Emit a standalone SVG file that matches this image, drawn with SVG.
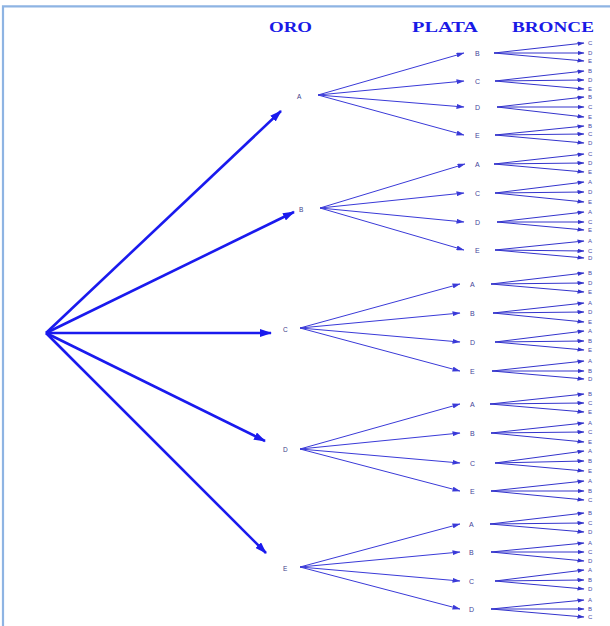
<svg xmlns="http://www.w3.org/2000/svg" width="610" height="626" viewBox="0 0 610 626">
  <style>
    .head { font-family: "Liberation Serif", "Times New Roman", serif; font-weight: bold; font-size: 15px; fill: #1a1ae6; }
    .lbl { font-family: "Liberation Sans", Arial, sans-serif; font-size: 6.5px; fill: #3c3c88; }
    .lbl-s { font-family: "Liberation Sans", Arial, sans-serif; font-size: 7px; fill: #44449a; }
    .lbl-b { font-family: "Liberation Sans", Arial, sans-serif; font-size: 6px; fill: #4a4aa8; }
    .gold { stroke: #1a1aee; stroke-width: 2.6; fill: none; marker-end: url(#big); }
    .silver { stroke: #3a3ad8; stroke-width: 1; fill: none; marker-end: url(#mid); }
    .bronze { stroke: #3434cc; stroke-width: 1; fill: none; marker-end: url(#small); }
    .frame { stroke: #8eb4e3; stroke-width: 2.2; fill: none; }
  </style>
  <defs>
    <marker id="big" viewBox="0 0 12 8" markerWidth="12" markerHeight="8" refX="11" refY="4" orient="auto" markerUnits="userSpaceOnUse">
      <path d="M0,0 L12,4 L0,8 Z" fill="#1a1aee"/>
    </marker>
    <marker id="mid" viewBox="0 0 8 5" markerWidth="8" markerHeight="5" refX="7.5" refY="2.5" orient="auto" markerUnits="userSpaceOnUse">
      <path d="M0,0 L8,2.5 L0,5 Z" fill="#3a3ad8"/>
    </marker>
    <marker id="small" viewBox="0 0 7 4.4" markerWidth="7" markerHeight="4.4" refX="6.5" refY="2.2" orient="auto" markerUnits="userSpaceOnUse">
      <path d="M0,0 L7,2.2 L0,4.4 Z" fill="#3434cc"/>
    </marker>
  </defs>

  <rect width="610" height="626" fill="#ffffff"/>
  <!-- page frame -->
  <path class="frame" d="M3,626 L3,6.3 L610,6.3"/>

  <!-- column headings -->
  <g id="headings">
    <text class="head" x="269" y="31.5" textLength="43" lengthAdjust="spacingAndGlyphs">ORO</text>
    <text class="head" x="412" y="31.5" textLength="66" lengthAdjust="spacingAndGlyphs">PLATA</text>
    <text class="head" x="512" y="31.5" textLength="82" lengthAdjust="spacingAndGlyphs">BRONCE</text>
  </g>

  <!-- connectors -->
  <g id="connectors">
    <!-- root to gold -->
    <line class="gold" x1="46" y1="333" x2="281" y2="111"/>
    <line class="gold" x1="46" y1="333" x2="294" y2="212"/>
    <line class="gold" x1="46" y1="333" x2="271" y2="333"/>
    <line class="gold" x1="46" y1="333" x2="265" y2="441"/>
    <line class="gold" x1="46" y1="333" x2="266" y2="553"/>

    <!-- gold to silver -->
    <line class="silver" x1="318" y1="95" x2="464" y2="53"/>
    <line class="silver" x1="318" y1="95" x2="464" y2="81"/>
    <line class="silver" x1="318" y1="95" x2="464" y2="107"/>
    <line class="silver" x1="318" y1="95" x2="464" y2="135"/>

    <line class="silver" x1="320" y1="208" x2="465" y2="164"/>
    <line class="silver" x1="320" y1="208" x2="464" y2="193"/>
    <line class="silver" x1="320" y1="208" x2="464" y2="222"/>
    <line class="silver" x1="320" y1="208" x2="464" y2="250"/>

    <line class="silver" x1="300" y1="328" x2="460" y2="284"/>
    <line class="silver" x1="300" y1="328" x2="460" y2="313"/>
    <line class="silver" x1="300" y1="328" x2="460" y2="342"/>
    <line class="silver" x1="300" y1="328" x2="460" y2="371"/>

    <line class="silver" x1="300" y1="449" x2="460" y2="404"/>
    <line class="silver" x1="300" y1="449" x2="460" y2="433"/>
    <line class="silver" x1="300" y1="449" x2="460" y2="463"/>
    <line class="silver" x1="300" y1="449" x2="460" y2="491"/>

    <line class="silver" x1="300" y1="567" x2="460" y2="524"/>
    <line class="silver" x1="300" y1="567" x2="460" y2="552"/>
    <line class="silver" x1="300" y1="567" x2="460" y2="581"/>
    <line class="silver" x1="300" y1="567" x2="460" y2="609"/>

    <!-- silver to bronze: gold A -->
    <line class="bronze" x1="494" y1="53" x2="584" y2="43"/>
    <line class="bronze" x1="494" y1="53" x2="584" y2="53"/>
    <line class="bronze" x1="494" y1="53" x2="584" y2="61"/>
    <line class="bronze" x1="495" y1="81" x2="584" y2="71"/>
    <line class="bronze" x1="495" y1="81" x2="584" y2="80"/>
    <line class="bronze" x1="495" y1="81" x2="584" y2="89"/>
    <line class="bronze" x1="497" y1="107" x2="584" y2="97"/>
    <line class="bronze" x1="497" y1="107" x2="584" y2="107"/>
    <line class="bronze" x1="497" y1="107" x2="584" y2="117"/>
    <line class="bronze" x1="495" y1="135" x2="584" y2="126"/>
    <line class="bronze" x1="495" y1="135" x2="584" y2="134"/>
    <line class="bronze" x1="495" y1="135" x2="584" y2="143"/>

    <!-- gold B -->
    <line class="bronze" x1="494" y1="164" x2="584" y2="154"/>
    <line class="bronze" x1="494" y1="164" x2="584" y2="163"/>
    <line class="bronze" x1="494" y1="164" x2="584" y2="172"/>
    <line class="bronze" x1="495" y1="193" x2="584" y2="182"/>
    <line class="bronze" x1="495" y1="193" x2="584" y2="192"/>
    <line class="bronze" x1="495" y1="193" x2="584" y2="202"/>
    <line class="bronze" x1="497" y1="222" x2="584" y2="212"/>
    <line class="bronze" x1="497" y1="222" x2="584" y2="222"/>
    <line class="bronze" x1="497" y1="222" x2="584" y2="230"/>
    <line class="bronze" x1="495" y1="250" x2="584" y2="241"/>
    <line class="bronze" x1="495" y1="250" x2="584" y2="251"/>
    <line class="bronze" x1="495" y1="250" x2="584" y2="258"/>

    <!-- gold C -->
    <line class="bronze" x1="491" y1="284" x2="584" y2="273"/>
    <line class="bronze" x1="491" y1="284" x2="584" y2="283"/>
    <line class="bronze" x1="491" y1="284" x2="584" y2="292"/>
    <line class="bronze" x1="493" y1="313" x2="584" y2="303"/>
    <line class="bronze" x1="493" y1="313" x2="584" y2="312"/>
    <line class="bronze" x1="493" y1="313" x2="584" y2="322"/>
    <line class="bronze" x1="495" y1="342" x2="584" y2="331"/>
    <line class="bronze" x1="495" y1="342" x2="584" y2="341"/>
    <line class="bronze" x1="495" y1="342" x2="584" y2="350"/>
    <line class="bronze" x1="492" y1="371" x2="584" y2="361"/>
    <line class="bronze" x1="492" y1="371" x2="584" y2="371"/>
    <line class="bronze" x1="492" y1="371" x2="584" y2="379"/>

    <!-- gold D -->
    <line class="bronze" x1="490" y1="404" x2="584" y2="394"/>
    <line class="bronze" x1="490" y1="404" x2="584" y2="403"/>
    <line class="bronze" x1="490" y1="404" x2="584" y2="412"/>
    <line class="bronze" x1="491" y1="433" x2="584" y2="423"/>
    <line class="bronze" x1="491" y1="433" x2="584" y2="432"/>
    <line class="bronze" x1="491" y1="433" x2="584" y2="442"/>
    <line class="bronze" x1="495" y1="463" x2="584" y2="451"/>
    <line class="bronze" x1="495" y1="463" x2="584" y2="461"/>
    <line class="bronze" x1="495" y1="463" x2="584" y2="471"/>
    <line class="bronze" x1="491" y1="491" x2="584" y2="481"/>
    <line class="bronze" x1="491" y1="491" x2="584" y2="491"/>
    <line class="bronze" x1="491" y1="491" x2="584" y2="500"/>

    <!-- gold E -->
    <line class="bronze" x1="490" y1="524" x2="584" y2="513"/>
    <line class="bronze" x1="490" y1="524" x2="584" y2="523"/>
    <line class="bronze" x1="490" y1="524" x2="584" y2="532"/>
    <line class="bronze" x1="491" y1="552" x2="584" y2="543"/>
    <line class="bronze" x1="491" y1="552" x2="584" y2="552"/>
    <line class="bronze" x1="491" y1="552" x2="584" y2="561"/>
    <line class="bronze" x1="495" y1="581" x2="584" y2="570"/>
    <line class="bronze" x1="495" y1="581" x2="584" y2="580"/>
    <line class="bronze" x1="495" y1="581" x2="584" y2="589"/>
    <line class="bronze" x1="491" y1="609" x2="584" y2="600"/>
    <line class="bronze" x1="491" y1="609" x2="584" y2="609"/>
    <line class="bronze" x1="491" y1="609" x2="584" y2="617"/>
  </g>

  <!-- gold nodes -->
  <g id="gold-A"><text class="lbl" x="297" y="98.5">A</text></g>
  <g id="gold-B"><text class="lbl" x="299" y="212">B</text></g>
  <g id="gold-C"><text class="lbl" x="283" y="331.5">C</text></g>
  <g id="gold-D"><text class="lbl" x="283" y="452">D</text></g>
  <g id="gold-E"><text class="lbl" x="283" y="570.5">E</text></g>

  <!-- silver nodes, gold A -->
  <g id="A-B"><text class="lbl-s" x="475" y="55.5">B</text></g>
  <g id="A-C"><text class="lbl-s" x="475" y="83.5">C</text></g>
  <g id="A-D"><text class="lbl-s" x="475" y="109.5">D</text></g>
  <g id="A-E"><text class="lbl-s" x="475" y="137.5">E</text></g>
  <!-- silver nodes, gold B -->
  <g id="B-A"><text class="lbl-s" x="475" y="166.5">A</text></g>
  <g id="B-C"><text class="lbl-s" x="475" y="195.5">C</text></g>
  <g id="B-D"><text class="lbl-s" x="475" y="224.5">D</text></g>
  <g id="B-E"><text class="lbl-s" x="475" y="252.5">E</text></g>
  <!-- silver nodes, gold C -->
  <g id="C-A"><text class="lbl-s" x="470" y="286.5">A</text></g>
  <g id="C-B"><text class="lbl-s" x="470" y="315.5">B</text></g>
  <g id="C-D"><text class="lbl-s" x="470" y="344.5">D</text></g>
  <g id="C-E"><text class="lbl-s" x="470" y="373.5">E</text></g>
  <!-- silver nodes, gold D -->
  <g id="D-A"><text class="lbl-s" x="470" y="406.5">A</text></g>
  <g id="D-B"><text class="lbl-s" x="470" y="435.5">B</text></g>
  <g id="D-C"><text class="lbl-s" x="470" y="465.5">C</text></g>
  <g id="D-E"><text class="lbl-s" x="470" y="493.5">E</text></g>
  <!-- silver nodes, gold E -->
  <g id="E-A"><text class="lbl-s" x="469" y="526.5">A</text></g>
  <g id="E-B"><text class="lbl-s" x="469" y="554.5">B</text></g>
  <g id="E-C"><text class="lbl-s" x="469" y="583.5">C</text></g>
  <g id="E-D"><text class="lbl-s" x="469" y="611.5">D</text></g>

  <!-- bronze leaves -->
  <g id="bronze-A">
    <text class="lbl-b" x="588" y="45">C</text><text class="lbl-b" x="588" y="55">D</text><text class="lbl-b" x="588" y="63">E</text>
    <text class="lbl-b" x="588" y="73">B</text><text class="lbl-b" x="588" y="82">D</text><text class="lbl-b" x="588" y="91">E</text>
    <text class="lbl-b" x="588" y="99">B</text><text class="lbl-b" x="588" y="109">C</text><text class="lbl-b" x="588" y="119">E</text>
    <text class="lbl-b" x="588" y="128">B</text><text class="lbl-b" x="588" y="136">C</text><text class="lbl-b" x="588" y="145">D</text>
  </g>
  <g id="bronze-B">
    <text class="lbl-b" x="588" y="156">C</text><text class="lbl-b" x="588" y="165">D</text><text class="lbl-b" x="588" y="174">E</text>
    <text class="lbl-b" x="588" y="184">A</text><text class="lbl-b" x="588" y="194">D</text><text class="lbl-b" x="588" y="204">E</text>
    <text class="lbl-b" x="588" y="214">A</text><text class="lbl-b" x="588" y="224">C</text><text class="lbl-b" x="588" y="232">E</text>
    <text class="lbl-b" x="588" y="243">A</text><text class="lbl-b" x="588" y="253">C</text><text class="lbl-b" x="588" y="260">D</text>
  </g>
  <g id="bronze-C">
    <text class="lbl-b" x="588" y="275">B</text><text class="lbl-b" x="588" y="285">D</text><text class="lbl-b" x="588" y="294">E</text>
    <text class="lbl-b" x="588" y="305">A</text><text class="lbl-b" x="588" y="314">D</text><text class="lbl-b" x="588" y="324">E</text>
    <text class="lbl-b" x="588" y="333">A</text><text class="lbl-b" x="588" y="343">B</text><text class="lbl-b" x="588" y="352">E</text>
    <text class="lbl-b" x="588" y="363">A</text><text class="lbl-b" x="588" y="373">B</text><text class="lbl-b" x="588" y="381">D</text>
  </g>
  <g id="bronze-D">
    <text class="lbl-b" x="588" y="396">B</text><text class="lbl-b" x="588" y="405">C</text><text class="lbl-b" x="588" y="414">E</text>
    <text class="lbl-b" x="588" y="425">A</text><text class="lbl-b" x="588" y="434">C</text><text class="lbl-b" x="588" y="444">E</text>
    <text class="lbl-b" x="588" y="453">A</text><text class="lbl-b" x="588" y="463">B</text><text class="lbl-b" x="588" y="473">E</text>
    <text class="lbl-b" x="588" y="483">A</text><text class="lbl-b" x="588" y="493">B</text><text class="lbl-b" x="588" y="502">C</text>
  </g>
  <g id="bronze-E">
    <text class="lbl-b" x="588" y="515">B</text><text class="lbl-b" x="588" y="525">C</text><text class="lbl-b" x="588" y="534">D</text>
    <text class="lbl-b" x="588" y="545">A</text><text class="lbl-b" x="588" y="554">C</text><text class="lbl-b" x="588" y="563">D</text>
    <text class="lbl-b" x="588" y="572">A</text><text class="lbl-b" x="588" y="582">B</text><text class="lbl-b" x="588" y="591">D</text>
    <text class="lbl-b" x="588" y="602">A</text><text class="lbl-b" x="588" y="611">B</text><text class="lbl-b" x="588" y="619">C</text>
  </g>
</svg>
